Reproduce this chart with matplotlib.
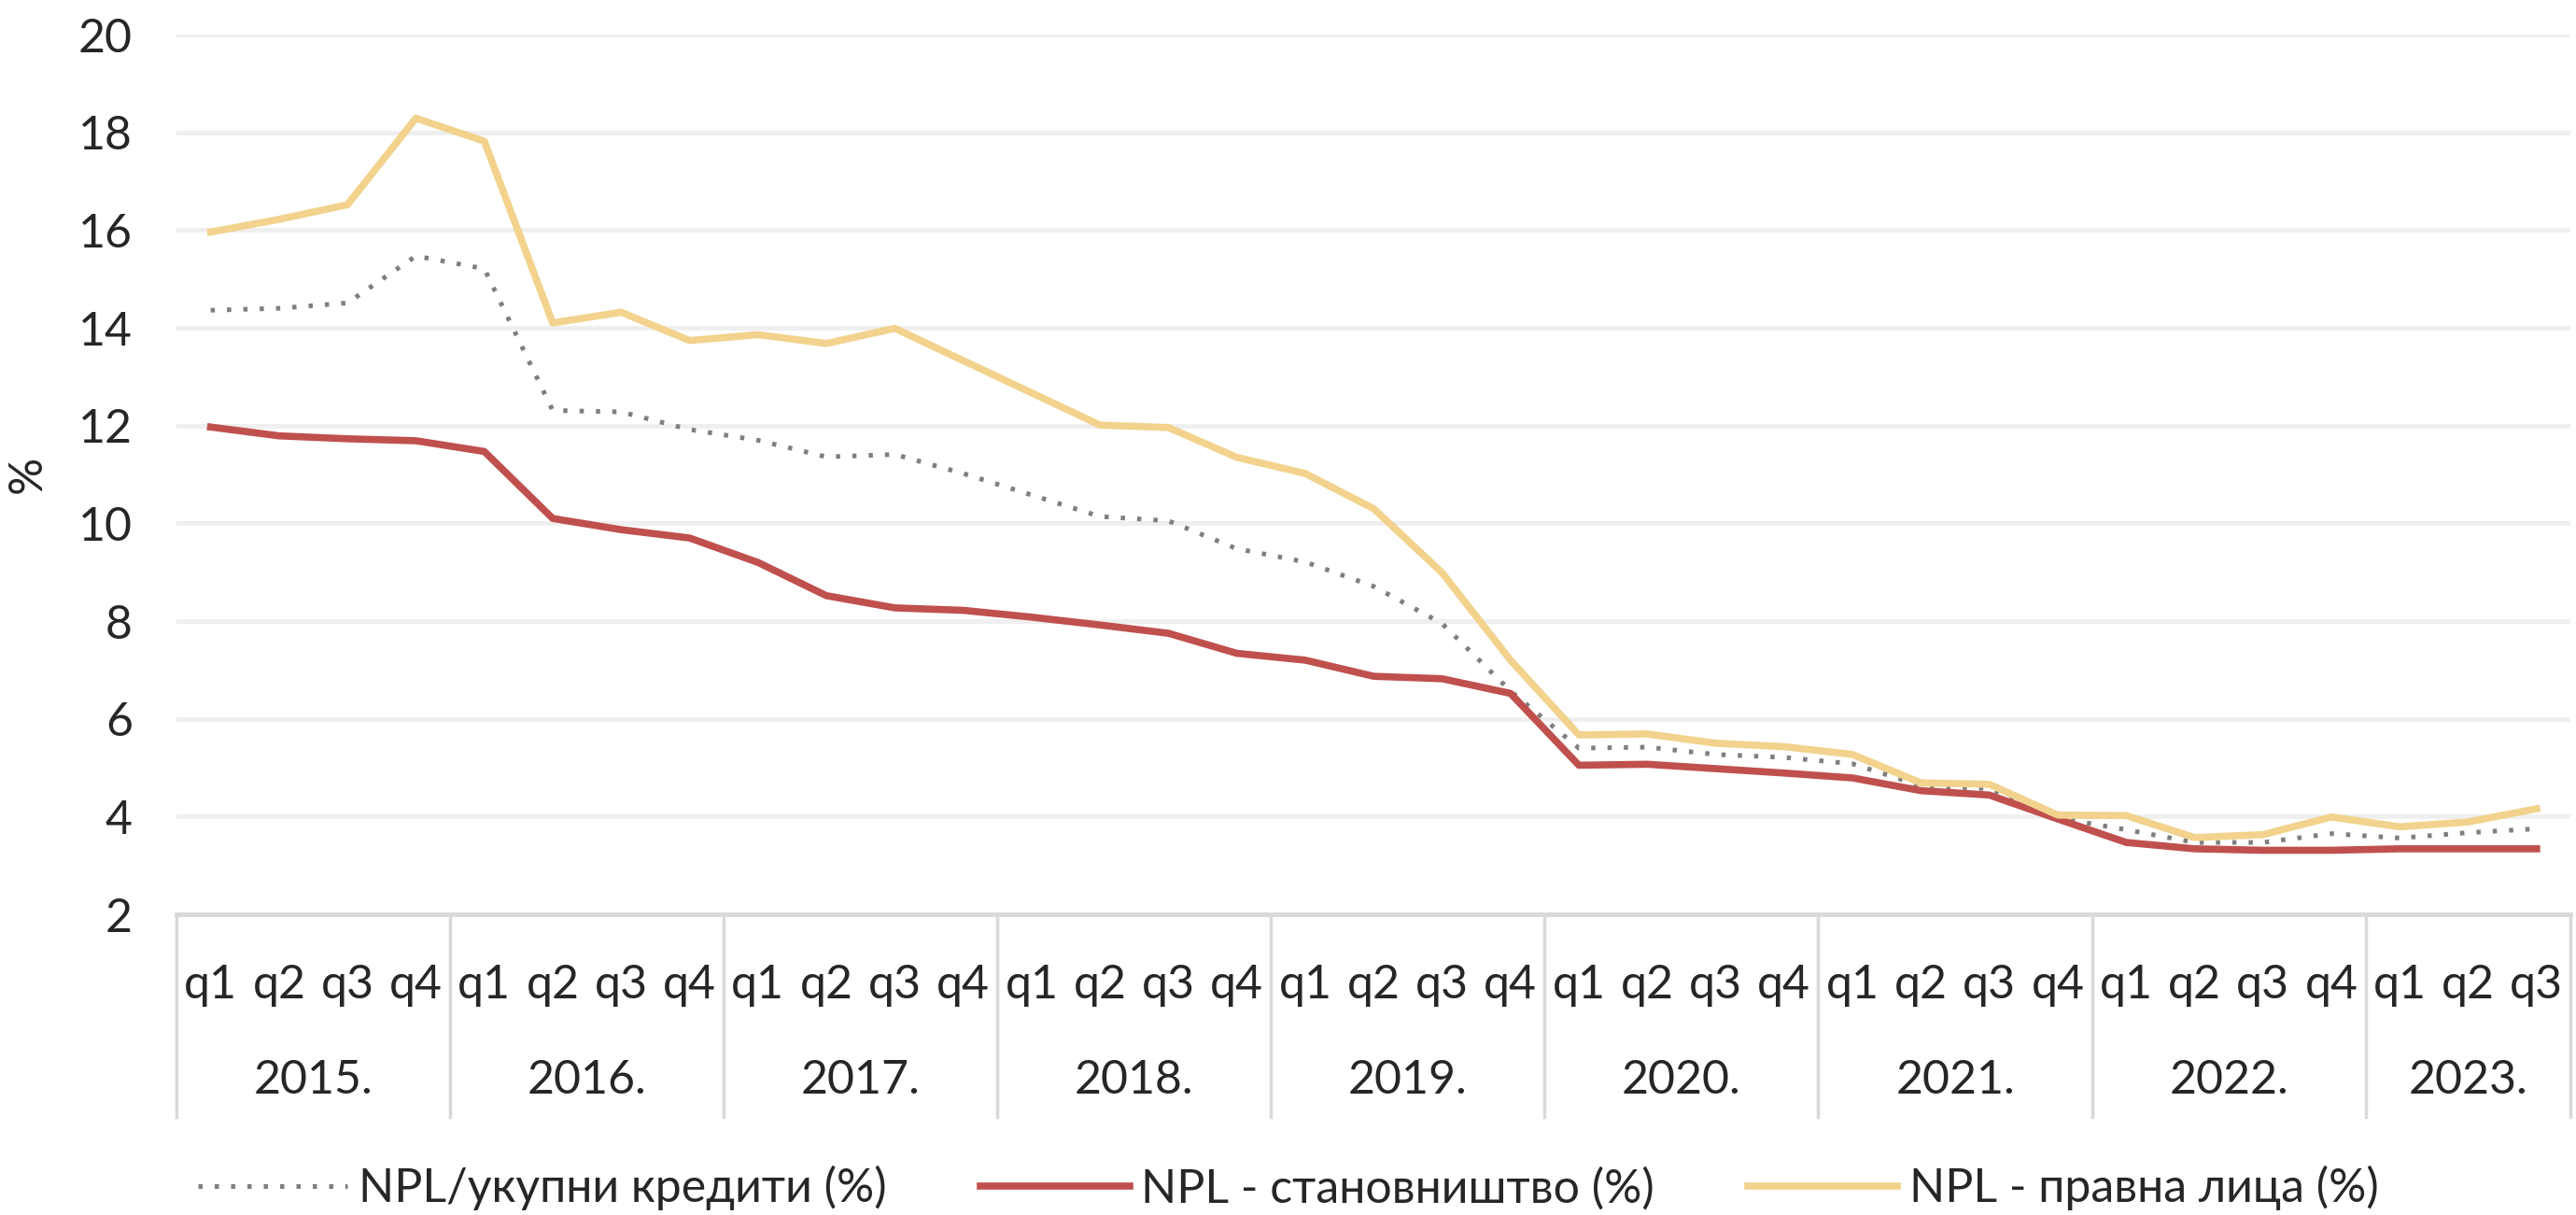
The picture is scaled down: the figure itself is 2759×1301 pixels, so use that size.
import numpy as np
import matplotlib.pyplot as plt
from matplotlib.transforms import blended_transform_factory

plt.rcParams['font.family'] = ['Lato', 'DejaVu Sans']

years = ['2015.', '2016.', '2017.', '2018.', '2019.', '2020.', '2021.', '2022.', '2023.']
quarters_in_year = [4, 4, 4, 4, 4, 4, 4, 4, 3]
quarter_names = ['q1', 'q2', 'q3', 'q4']

# NPL/укупни кредити (%)
npl_total = [14.36, 14.40, 14.51, 15.47,
             15.21, 12.31, 12.28, 11.92,
             11.70, 11.36, 11.41, 11.02,
             10.58, 10.14, 10.05, 9.48,
             9.21, 8.71, 7.95, 6.57,
             5.40, 5.42, 5.27, 5.21,
             5.08, 4.63, 4.57, 3.97,
             3.73, 3.47, 3.47, 3.65,
             3.56, 3.67, 3.75]
# NPL - становништво (%)
npl_households = [11.97, 11.79, 11.73, 11.69,
                  11.47, 10.10, 9.87, 9.70,
                  9.20, 8.52, 8.27, 8.22,
                  8.08, 7.92, 7.75, 7.34,
                  7.20, 6.87, 6.82, 6.52,
                  5.05, 5.07, 4.98, 4.89,
                  4.79, 4.53, 4.44, 3.95,
                  3.47, 3.34, 3.31, 3.31,
                  3.34, 3.34, 3.34]
# NPL - правна лица (%)
npl_corporate = [15.96, 16.22, 16.52, 18.29,
                 17.82, 14.10, 14.32, 13.74,
                 13.86, 13.68, 13.99, 13.33,
                 12.67, 12.01, 11.96, 11.35,
                 11.02, 10.30, 8.99, 7.20,
                 5.67, 5.69, 5.50, 5.43,
                 5.27, 4.69, 4.66, 4.03,
                 4.02, 3.57, 3.63, 3.99,
                 3.79, 3.89, 4.16]

x = np.arange(len(npl_total))

fig = plt.figure(figsize=(27.59, 13.01), dpi=100)
ax = fig.add_axes([0.0685, 0.2475, 0.9295, 0.7240])

ax.plot(x, npl_total, color='#7f7f7f', lw=3.6, linestyle=(0, (0.9, 2.6)),
        dash_capstyle='butt', label='NPL/укупни кредити (%)')
ax.plot(x, npl_households, color='#C0504D', lw=5.5, label='NPL - становништво (%)')
ax.plot(x, npl_corporate, color='#F2D28C', lw=5.5, label='NPL - правна лица (%)')

ax.set_xlim(-0.5, len(x) - 0.5)
ax.set_ylim(2, 20)
ax.set_yticks(np.arange(2, 21, 2))
ax.yaxis.grid(True, color='#EFEFEF', lw=3.5)
ax.set_axisbelow(True)
for s in ['top', 'right', 'left']:
    ax.spines[s].set_visible(False)
ax.spines['bottom'].set_color('#D9D9D9')
ax.spines['bottom'].set_linewidth(3.5)
ax.set_xticks([])
ax.tick_params(axis='y', length=0, pad=34, labelsize=36, labelcolor='#262626')
ax.set_ylabel('%', fontsize=36, color='#262626', labelpad=22)

tr = blended_transform_factory(ax.transData, ax.transAxes)
start = 0
sep_kw = dict(color='#D9D9D9', lw=2.5, transform=tr, clip_on=False)
ax.plot([-0.5, -0.5], [0, -0.23], **sep_kw)
for yr, n in zip(years, quarters_in_year):
    for k in range(n):
        ax.text(start + k, -0.081, quarter_names[k], transform=tr, ha='center', va='center',
                fontsize=36, color='#262626')
    ax.text(start + (n - 1) / 2, -0.189, yr, transform=tr, ha='center', va='center',
            fontsize=36, color='#262626')
    end = start + n - 0.5
    ax.plot([end, end], [0, -0.23], **sep_kw)
    start += n

fig.legend(loc='center', bbox_to_anchor=(0.5, 0.022), ncol=3, frameon=False,
           fontsize=36, handlelength=3.2, handletextpad=0.25, columnspacing=2.0,
           labelcolor='#262626')

fig.savefig('out.png', dpi=100)
